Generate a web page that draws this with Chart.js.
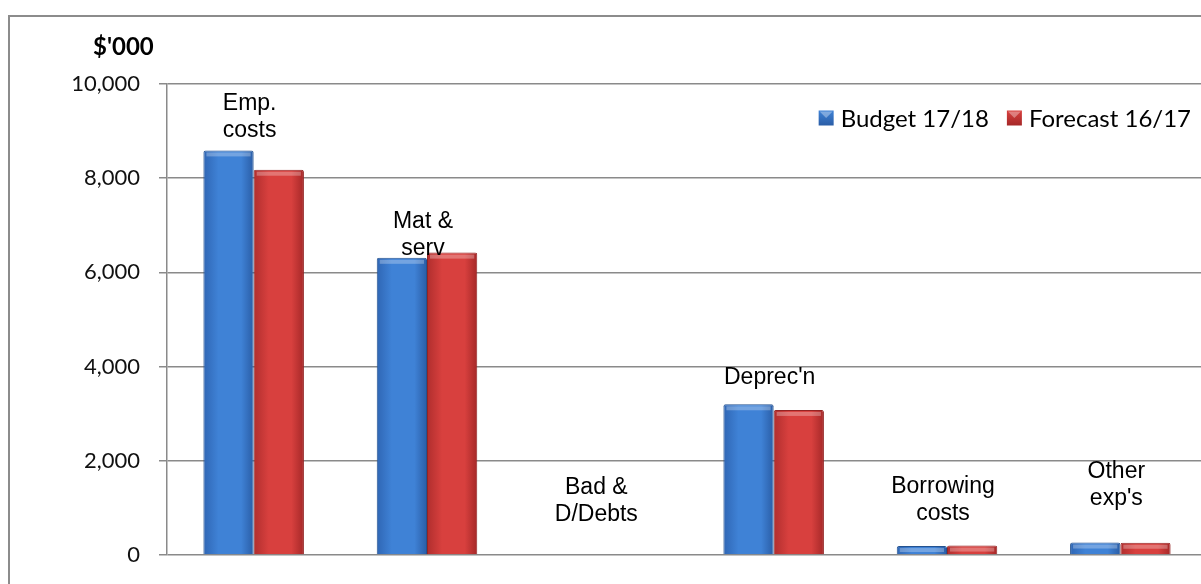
<!DOCTYPE html>
<html>
<head>
<meta charset="utf-8">
<script src="https://cdn.jsdelivr.net/npm/chart.js@4.4.1/dist/chart.umd.min.js"></script>
<style>
  html, body { margin: 0; padding: 0; background: #fff; overflow: hidden; }
  #frame {
    position: absolute; left: 8px; top: 15px;
    width: 1400px; height: 800px;
    border: 2px solid #8c8c8c; box-sizing: border-box;
  }
  #chart { position: absolute; left: 0; top: 0; }
</style>
</head>
<body>
<div id="frame"></div>
<canvas id="chart" width="1207" height="584"></canvas>
<script>
const categories = ["Emp. costs", "Mat & serv", "Bad & D/Debts", "Deprec'n", "Borrowing costs", "Other exp's"];
const labelLines = [["Emp.", "costs"], ["Mat &", "serv"], ["Bad &", "D/Debts"], ["Deprec'n"], ["Borrowing", "costs"], ["Other", "exp's"]];
const budget1718 = [8590, 6310, 0, 3200, 190, 265];
const forecast1617 = [8180, 6420, 0, 3080, 200, 260];
const yTicks = [0, 2000, 4000, 6000, 8000, 10000];
// value (in $'000) where the bottom line of each category label sits
const labelAnchor = [9010, 6500, 850, 3760, 870, 1190];

const seriesNames = ["Budget 17/18", "Forecast 16/17"];
const blueShades = ["#2f66b4", "#3f82d6", "#2a5da6"];
const redShades = ["#b02e2e", "#d8403e", "#a52828"];
const gridGray = "#8a8a8a";
const CAT_PCT = 0.58;

function barFill(ctx, shades) {
  const chart = ctx.chart;
  const xs = chart.scales.x;
  if (!chart.chartArea || !xs || ctx.dataIndex == null) return shades[1];
  const w = (xs.width / categories.length) * CAT_PCT / 2;
  const c = xs.getPixelForValue(ctx.dataIndex);
  const left = ctx.datasetIndex === 0 ? c - w : c;
  const g = chart.ctx.createLinearGradient(left, 0, left + w, 0);
  g.addColorStop(0, shades[0]);
  g.addColorStop(0.3, shades[1]);
  g.addColorStop(0.75, shades[1]);
  g.addColorStop(1, shades[2]);
  return g;
}

const extras = {
  id: "extras",
  afterDatasetsDraw(chart) {
    const ctx = chart.ctx;
    // top bevel highlight on each bar
    chart.data.datasets.forEach((ds, di) => {
      chart.getDatasetMeta(di).data.forEach((bar) => {
        const h = bar.base - bar.y;
        if (h < 3) return;
        ctx.save();
        ctx.fillStyle = "rgba(255,255,255,0.28)";
        ctx.fillRect(bar.x - bar.width / 2 + 3, bar.y + 2, bar.width - 6, Math.min(4, h - 4));
        ctx.restore();
      });
    });
  },
  afterDraw(chart) {
    const ctx = chart.ctx;
    const xs = chart.scales.x;
    const ys = chart.scales.y;
    const area = chart.chartArea;
    ctx.save();

    // unit label
    ctx.fillStyle = "#000";
    ctx.font = "bold 24px Lato";
    ctx.textBaseline = "middle";
    ctx.textAlign = "left";
    ctx.fillText("$'000", 93, 47);

    // category labels above bars
    ctx.font = "23px 'Liberation Sans', Arial";
    ctx.textAlign = "center";
    labelLines.forEach((lines, i) => {
      const x = xs.getPixelForValue(i) - 4;
      const yBottom = ys.getPixelForValue(labelAnchor[i]);
      lines.slice().reverse().forEach((t, k) => {
        ctx.fillText(t, x, yBottom - k * 27);
      });
    });

    // legend, inside the plot at top right
    ctx.font = "24px Lato";
    ctx.textAlign = "left";
    const yMid = area.top + 34;
    const box = 15;
    const w1 = ctx.measureText(seriesNames[0]).width;
    const w2 = ctx.measureText(seriesNames[1]).width;
    const end = area.right - 16;
    const x2 = end - w2 - 7 - box;
    const x1 = x2 - 18 - w1 - 7 - box;
    [[x1, blueShades, seriesNames[0]], [x2, redShades, seriesNames[1]]].forEach(([bx, sh, name]) => {
      const g = ctx.createLinearGradient(0, yMid - box / 2, 0, yMid + box / 2);
      g.addColorStop(0, sh[1]);
      g.addColorStop(1, sh[2]);
      ctx.fillStyle = g;
      ctx.fillRect(bx, yMid - box / 2, box, box);
      ctx.fillStyle = "rgba(255,255,255,0.35)";
      ctx.beginPath();
      ctx.moveTo(bx + 1, yMid - box / 2 + 1);
      ctx.lineTo(bx + box - 1, yMid - box / 2 + 1);
      ctx.lineTo(bx + box / 2, yMid);
      ctx.closePath();
      ctx.fill();
      ctx.fillStyle = "#000";
      ctx.fillText(name, bx + box + 7, yMid + 1);
    });
    ctx.restore();
  },
};

new Chart(document.getElementById("chart"), {
  type: "bar",
  data: {
    labels: categories,
    datasets: [
      {
        label: seriesNames[0],
        data: budget1718,
        backgroundColor: (c) => barFill(c, blueShades),
        borderColor: "#24528f",
        borderWidth: 1,
        borderRadius: 2,
        borderSkipped: "bottom",
        categoryPercentage: CAT_PCT,
        barPercentage: 1,
      },
      {
        label: seriesNames[1],
        data: forecast1617,
        backgroundColor: (c) => barFill(c, redShades),
        borderColor: "#942424",
        borderWidth: 1,
        borderRadius: 2,
        borderSkipped: "bottom",
        categoryPercentage: CAT_PCT,
        barPercentage: 1,
      },
    ],
  },
  options: {
    responsive: false,
    animation: false,
    layout: { padding: { top: 84, bottom: 29, left: 0, right: 0 } },
    plugins: {
      legend: { display: false },
      tooltip: { enabled: false },
    },
    scales: {
      x: {
        ticks: { display: false },
        grid: { display: false, drawTicks: false },
        border: { display: false },
      },
      y: {
        min: 0,
        max: 10000,
        afterBuildTicks: (scale) => {
          scale.ticks = yTicks.map((v) => ({ value: v }));
        },
        afterFit: (scale) => {
          scale.width = 167;
          scale.paddingTop = 0;
          scale.paddingBottom = 0;
        },
        ticks: {
          color: "#111",
          font: { family: "Lato", size: 22 },
          padding: 19,
          callback: (v) => v.toLocaleString("en-US"),
        },
        grid: { color: gridGray, lineWidth: 1.5, tickLength: 8, drawTicks: true },
        border: { display: true, color: gridGray, width: 1.5 },
      },
    },
  },
  plugins: [extras],
});
</script>
</body>
</html>
